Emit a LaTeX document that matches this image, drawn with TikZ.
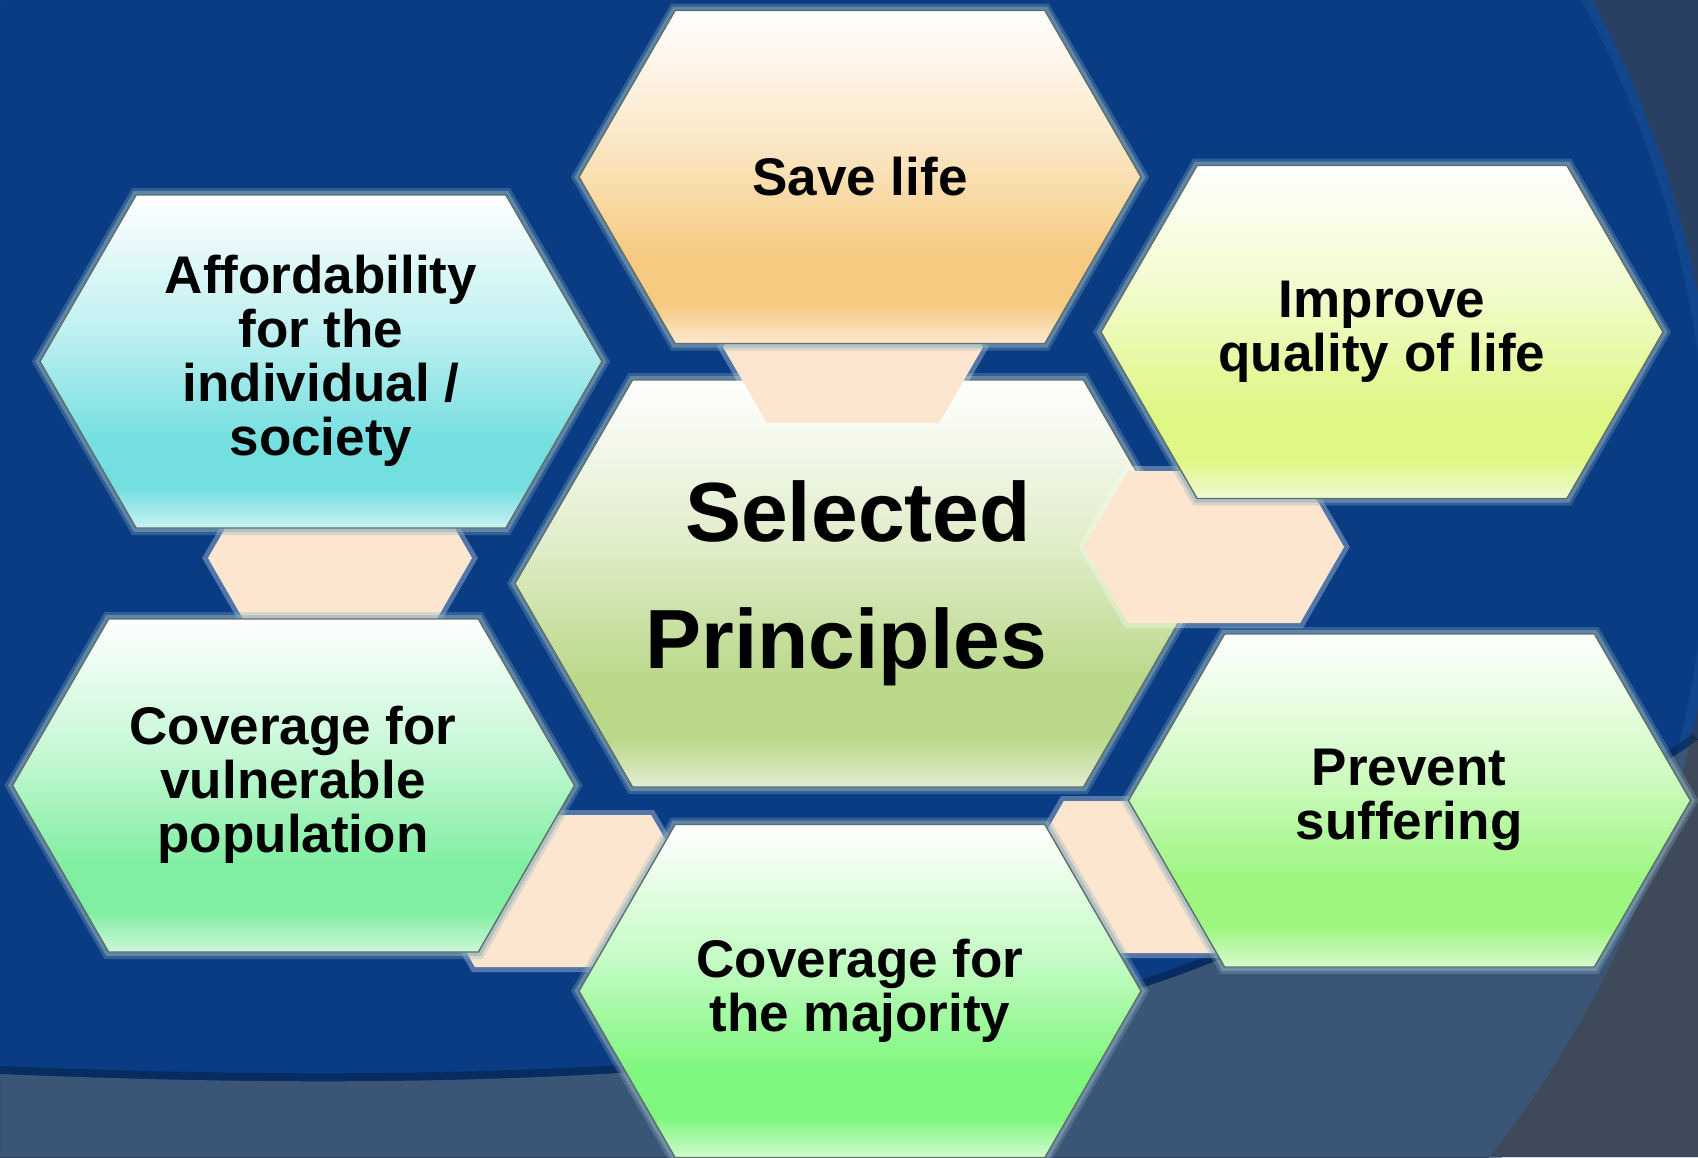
\documentclass[tikz,border=0pt]{standalone}
\usepackage{fontspec}
\setmainfont{Liberation Sans}

\definecolor{navy}{RGB}{10,60,132}
\definecolor{navylight}{RGB}{24,78,148}
\definecolor{slate}{RGB}{41,64,98}
\definecolor{band}{RGB}{58,85,117}
\definecolor{banddark}{RGB}{62,74,90}
\definecolor{peach}{RGB}{252,230,207}
\definecolor{glow}{RGB}{140,175,190}
\definecolor{cellline}{RGB}{95,110,105}
\definecolor{savemid}{RGB}{246,202,128}
\definecolor{savelo}{RGB}{252,232,206}
\definecolor{improvemid}{RGB}{222,247,133}
\definecolor{improvelo}{RGB}{240,250,208}
\definecolor{affordmid}{RGB}{116,223,224}
\definecolor{affordlo}{RGB}{200,242,242}
\definecolor{centermid}{RGB}{186,216,137}
\definecolor{centerlo}{RGB}{226,237,208}
\definecolor{vulnmid}{RGB}{128,239,162}
\definecolor{vulnlo}{RGB}{204,247,216}
\definecolor{preventmid}{RGB}{157,246,128}
\definecolor{preventlo}{RGB}{216,251,207}
\definecolor{majormid}{RGB}{127,247,126}
\definecolor{majorlo}{RGB}{208,251,206}

% white on top, colour low down, lighter again at the bottom edge
\newcommand{\cellshading}[3]{%
  \pgfdeclareverticalshading{#1}{100bp}{color(0bp)=(#2); color(25bp)=(#2);
    color(31bp)=(#3); color(38bp)=(#3); color(55bp)=(#3!45!white);
    color(75bp)=(white); color(100bp)=(white)}}
\cellshading{savefill}{savelo}{savemid}
\cellshading{improvefill}{improvelo}{improvemid}
\cellshading{affordfill}{affordlo}{affordmid}
\cellshading{centerfill}{centerlo}{centermid}
\cellshading{vulnfill}{vulnlo}{vulnmid}
\cellshading{preventfill}{preventlo}{preventmid}
\cellshading{majorfill}{majorlo}{majormid}

% flat-topped hexagon: style, centre, half width, half height
\newcommand{\hexcell}[4]{%
  \path[#1] (#2) ++(-#3,0) -- ++({#4*0.57735},-#4)
    -- ++({2*#3-2*#4*0.57735},0) -- ++({#4*0.57735},#4)
    -- ++({-#4*0.57735},#4) -- ++({-2*#3+2*#4*0.57735},0) -- cycle;}

\begin{document}
\begin{tikzpicture}[
        x=0.5pt, y=-0.5pt,
        cell/.style={shading=#1, draw=cellline, line width=0.7pt,
            preaction={draw=glow, line width=7pt, opacity=0.3},
            preaction={draw=glow, line width=4pt, opacity=0.5}},
        link/.style={fill=peach,
            preaction={draw=white, line width=5pt, opacity=0.3}},
        lab/.style={align=center, text=black,
            font=\fontsize{26.5pt}{27pt}\selectfont\bfseries},
        biglab/.style={align=center, text=black,
            font=\fontsize{42pt}{63.5pt}\selectfont\bfseries},
    ]
    \useasboundingbox (0,0) rectangle (1698,1157);
    \clip (0,0) rectangle (1698,1157);

    % background
    \fill[navy] (0,0) rectangle (1698,1157);
    \draw[line width=10pt, navylight, opacity=0.6] (660,500) circle[radius=529pt];
    \fill[slate, even odd rule] (0,0) rectangle (1698,1157) (660,500) circle[radius=529pt];
    \draw[line width=8pt, black, opacity=0.25] (0,1074) .. controls (500,1095) and (950,1075) .. (1230,955)
        .. controls (1450,870) and (1600,810) .. (1698,740);
    \begin{scope}
        \clip (0,1074) .. controls (500,1095) and (950,1075) .. (1230,955)
            .. controls (1450,870) and (1600,810) .. (1698,740) -- (1698,1157) -- (0,1157) -- cycle;
        \fill[band] (0,0) rectangle (1698,1157);
        \fill[banddark, even odd rule] (0,0) rectangle (1698,1157) (660,500) circle[radius=529pt];
    \end{scope}

    % middle cell
    \hexcell{cell=centerfill}{858,583.5}{343}{203.5}

    % small links between the cells
    \hexcell{link}{853,347}{130}{76}
    \hexcell{link}{1214,547}{130}{76}
    \hexcell{link}{340,558}{132}{76}
    \hexcell{link}{563,891}{132}{76}
    \hexcell{link}{1152,877}{132}{76}

    % outer cells
    \hexcell{cell=savefill}{860,177}{281}{166.5}
    \hexcell{cell=improvefill}{1382,332}{281}{166.5}
    \hexcell{cell=affordfill}{321,361.5}{281}{166.5}
    \hexcell{cell=vulnfill}{293.5,785.5}{281}{166.5}
    \hexcell{cell=preventfill}{1409.5,800.5}{281}{166.5}
    \hexcell{cell=majorfill}{860,991}{281}{166.5}

    \node[biglab] (principles) at (858,583) {Selected\\Principles\kern0.28em};
    \node[lab] (save) at (860,177) {Save life};
    \node[lab] (improve) at (1382,332) {Improve\\quality of life};
    \node[lab] (afford) at (321,361) {Affordability\\for the\\individual /\\society};
    \node[lab] (vulnerable) at (293,785) {Coverage for\\vulnerable\\population};
    \node[lab] (prevent) at (1409,800) {Prevent\\suffering};
    \node[lab] (majority) at (860,991) {Coverage for\\the majority};
\end{tikzpicture}
\end{document}
